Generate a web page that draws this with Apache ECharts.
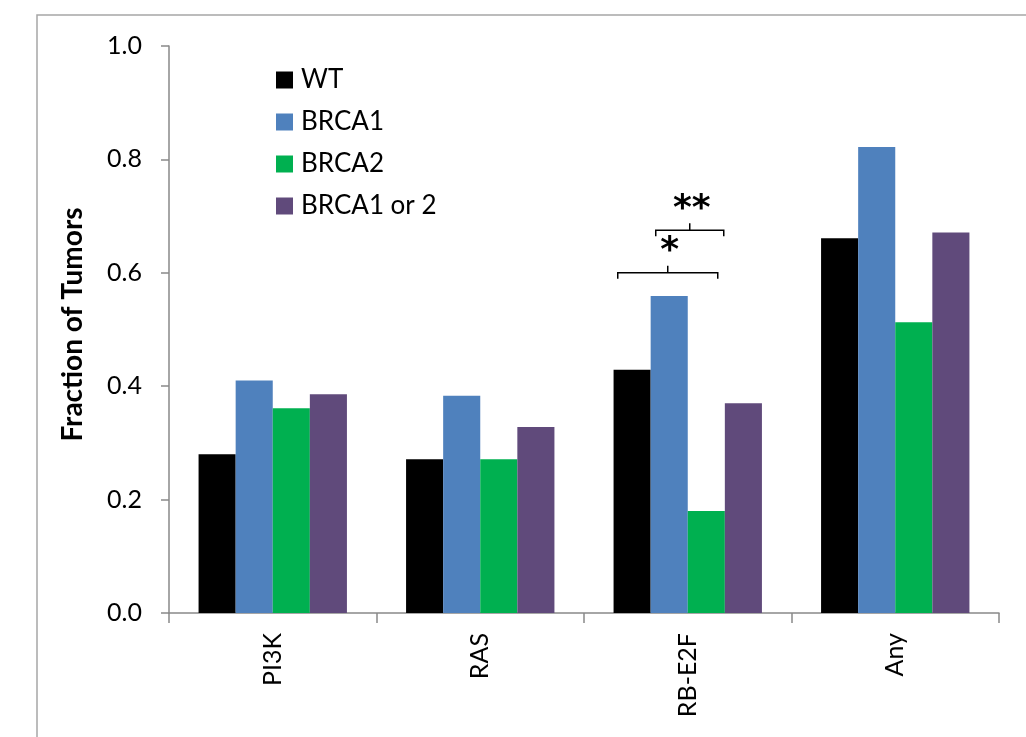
<!DOCTYPE html>
<html>
<head>
<meta charset="utf-8">
<script src="https://cdn.jsdelivr.net/npm/echarts@6/dist/echarts.min.js"></script>
<style>
html,body{margin:0;padding:0;background:#fff;}
#chart{width:1026px;height:737px;}
</style>
</head>
<body>
<div id="chart"></div>
<script>
// ---- data ----
var categories = ['PI3K', 'RAS', 'RB-E2F', 'Any'];
var seriesNames = ['WT', 'BRCA1', 'BRCA2', 'BRCA1 or 2'];
var wt        = [0.280, 0.271, 0.429, 0.661];
var brca1     = [0.410, 0.383, 0.559, 0.822];
var brca2     = [0.361, 0.271, 0.180, 0.513];
var brca1or2  = [0.386, 0.328, 0.370, 0.671];
var yTicks = [0, 0.2, 0.4, 0.6, 0.8, 1.0];
// significance brackets on the RB-E2F group
var sigCategory = 'RB-E2F';
var sigLabels = ['*', '**'];
var sigLevels = [0.600, 0.675];

var colors = ['#000000', '#4F81BD', '#00B050', '#604A7B'];
var font = 'Lato, "Open Sans", sans-serif';
var values = [wt, brca1, brca2, brca1or2];

var chart = echarts.init(document.getElementById('chart'));
var option = {
  animation: false,
  backgroundColor: '#ffffff',
  textStyle: { fontFamily: font, color: '#000' },
  grid: { left: 169, right: 27, top: 46, bottom: 124, containLabel: false },
  legend: {
    orient: 'vertical',
    left: 271, top: 62,
    itemWidth: 17, itemHeight: 17, itemGap: 16,
    icon: 'rect',
    data: seriesNames,
    textStyle: { fontFamily: font, fontSize: 26, color: '#000', padding: [0, 0, 0, 3] }
  },
  xAxis: {
    type: 'category',
    data: categories,
    axisLine: { show: true, lineStyle: { color: '#898989', width: 1.5 } },
    axisTick: { show: true, length: 10, lineStyle: { color: '#898989', width: 1.5 } },
    axisLabel: { rotate: 90, margin: 20, fontSize: 25, fontFamily: font, color: '#000' }
  },
  yAxis: {
    type: 'value',
    min: yTicks[0], max: yTicks[yTicks.length - 1], interval: 0.2,
    name: 'Fraction of Tumors',
    nameLocation: 'middle',
    nameGap: 82,
    nameTextStyle: { fontSize: 28, fontWeight: 'bold', fontFamily: font, color: '#000',
      padding: [0, 0, 0, 10] },
    splitLine: { show: false },
    axisLine: { show: true, lineStyle: { color: '#898989', width: 1.5 } },
    axisTick: { show: true, length: 8, lineStyle: { color: '#898989', width: 1.5 } },
    axisLabel: { margin: 27, fontSize: 25, fontFamily: font, color: '#000',
      formatter: function (v) { return v.toFixed(1); } }
  },
  series: seriesNames.map(function (n, i) {
    return {
      name: n, type: 'bar', data: values[i],
      barGap: '0%', barCategoryGap: '28.5%',
      itemStyle: { color: colors[i] }
    };
  })
};
chart.setOption(option);

// annotations drawn through the chart's own scales
var cx = chart.convertToPixel({ xAxisIndex: 0 }, sigCategory);
var ypx = function (v) { return chart.convertToPixel({ yAxisIndex: 0 }, v); };
var spans = [[-70, 30], [-32, 36]];
var g = [];
g.push({ type: 'rect', shape: { x: 37, y: 15, width: 1100, height: 900 },
  style: { fill: 'none', stroke: '#a6a6a6', lineWidth: 1.5 }, silent: true, z: 0 });
sigLevels.forEach(function (lv, i) {
  var y = ypx(lv);
  var x1 = cx + spans[i][0], x2 = cx + spans[i][1], xm = (x1 + x2) / 2;
  g.push({ type: 'polyline', shape: { points: [[x1, y + 6], [x1, y], [x2, y], [x2, y + 6]] },
    style: { stroke: '#000', lineWidth: 1.5, fill: 'none' }, z: 10 });
  g.push({ type: 'line', shape: { x1: xm, y1: y, x2: xm, y2: y - 7 },
    style: { stroke: '#000', lineWidth: 1.5 }, z: 10 });
  g.push({ type: 'text', x: xm + 2, y: y - 3,
    style: { text: sigLabels[i], fontSize: 36, fontWeight: 'bold', fontFamily: 'DejaVu Sans',
      fill: '#000', align: 'center', verticalAlign: 'bottom' }, z: 10 });
});
chart.setOption({ graphic: g });
</script>
</body>
</html>
